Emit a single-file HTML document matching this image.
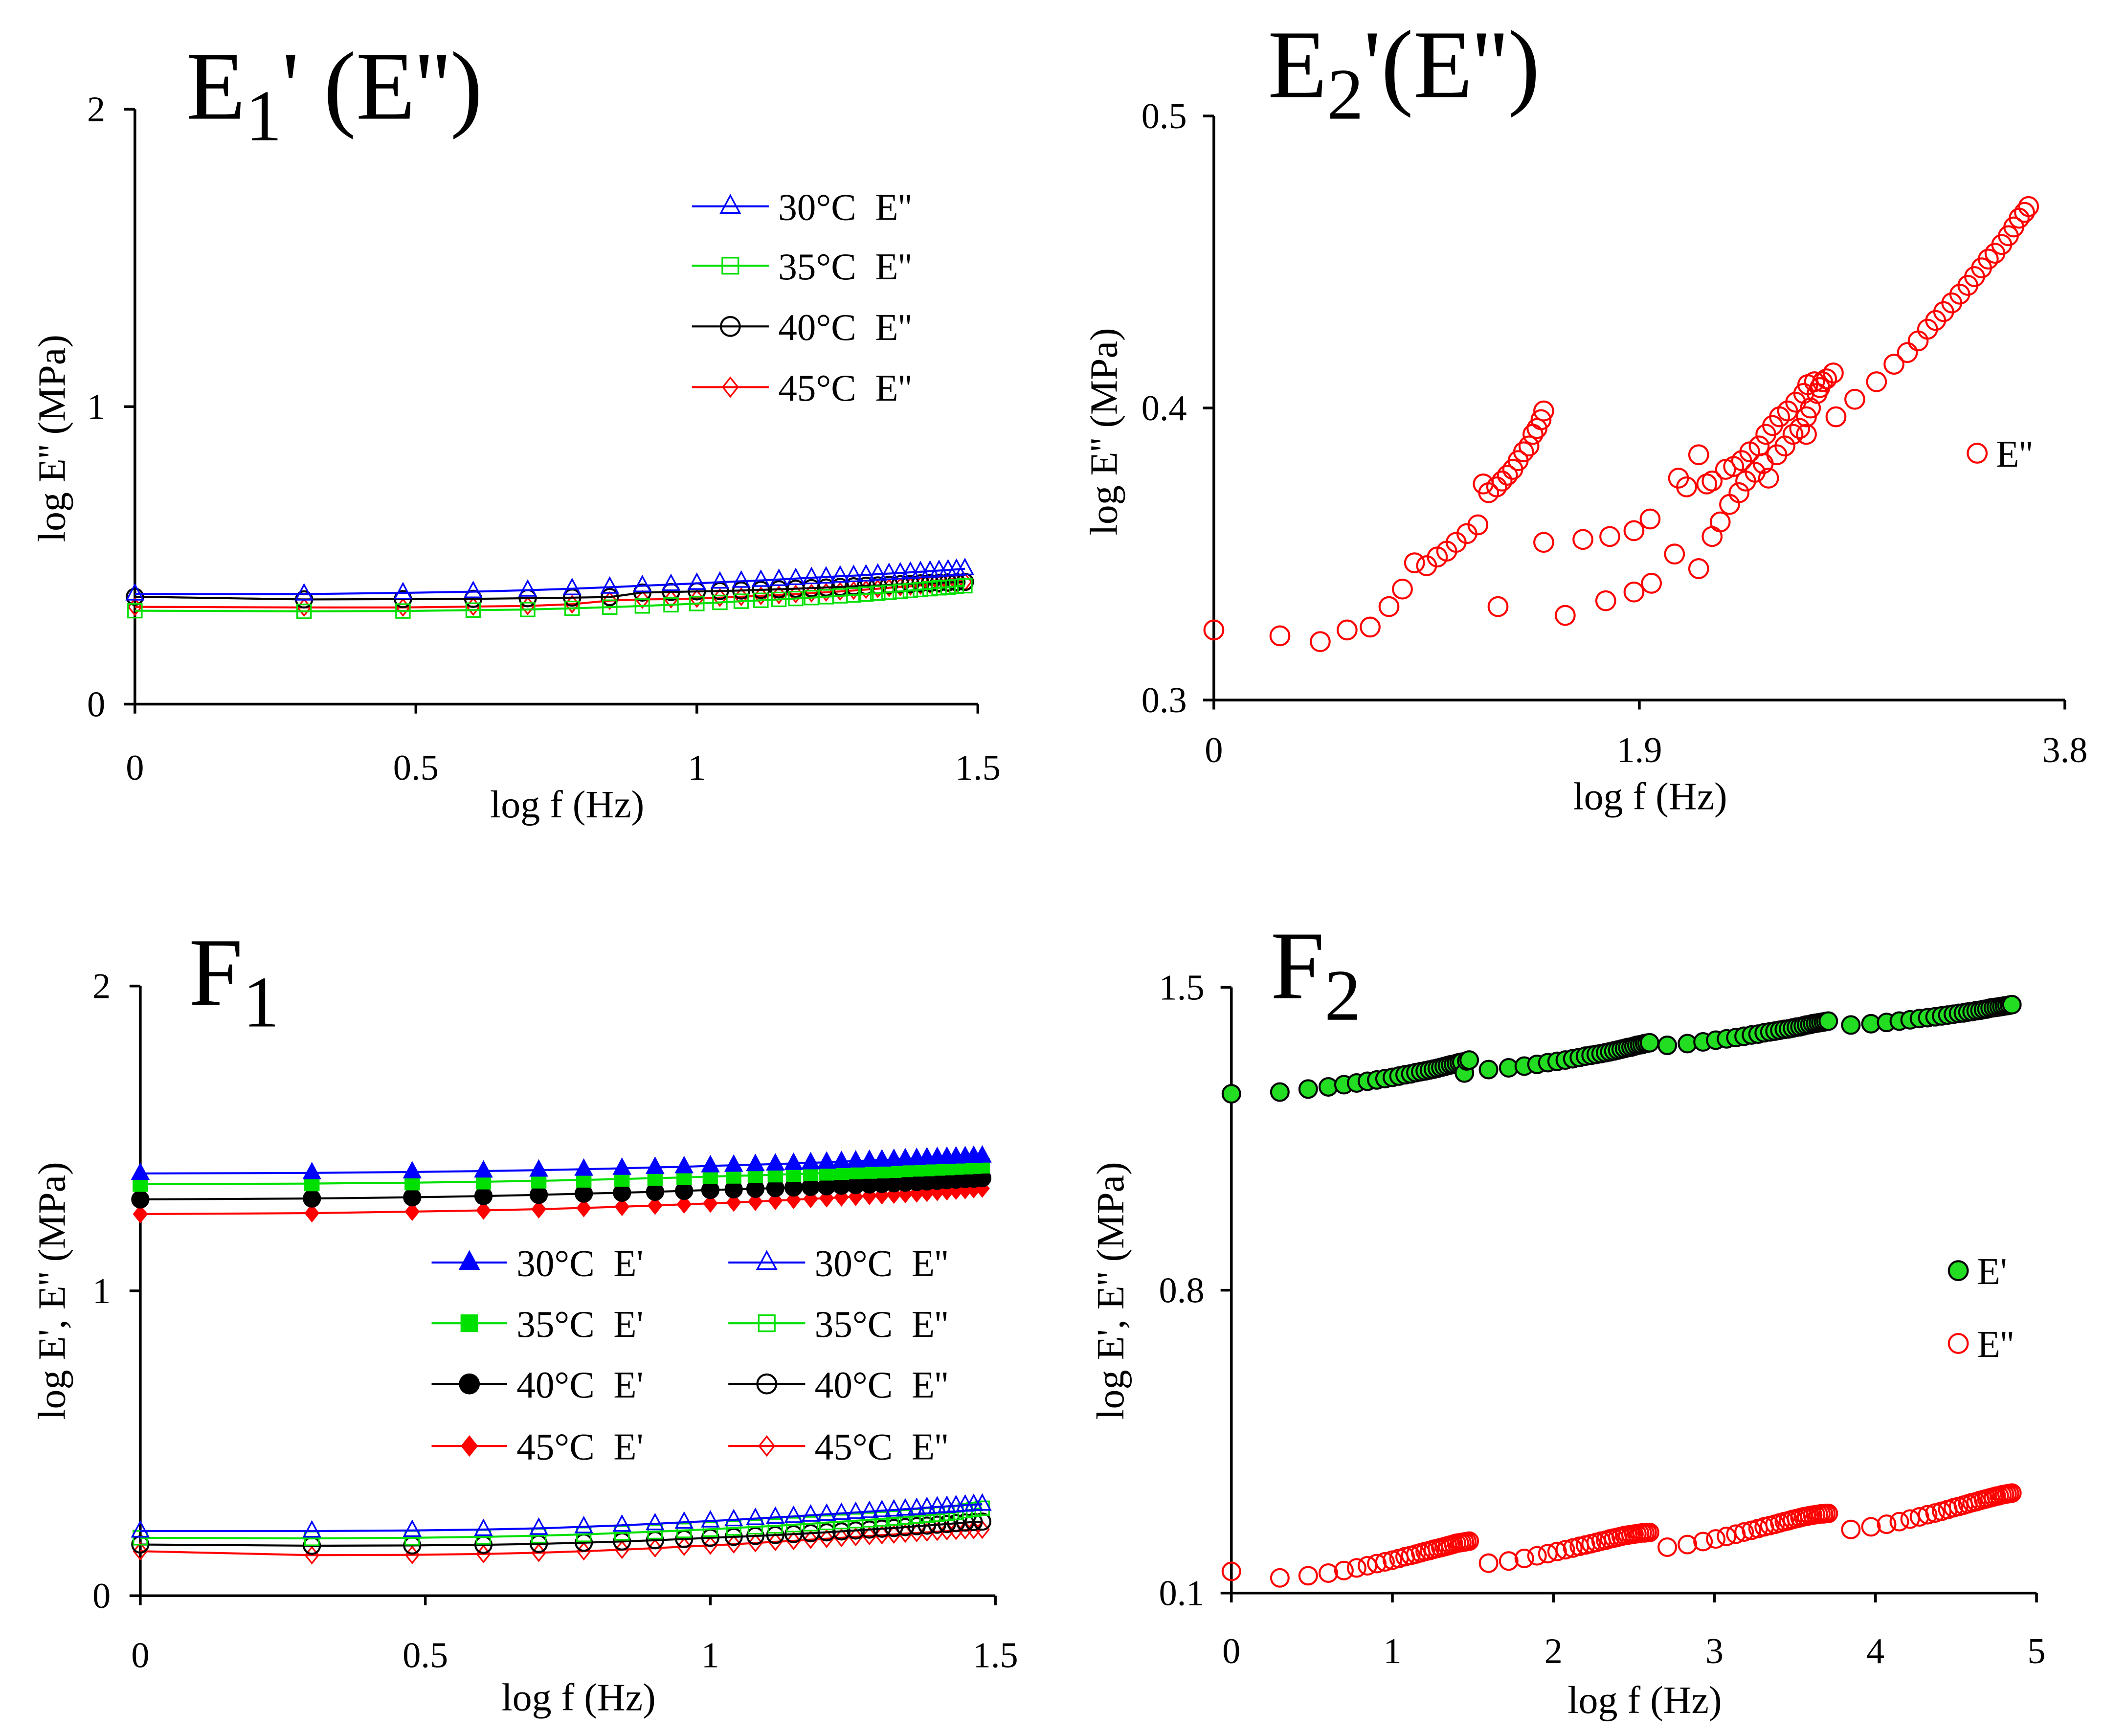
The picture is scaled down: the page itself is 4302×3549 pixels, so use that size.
<!DOCTYPE html>
<html><head><meta charset="utf-8"><style>
html,body{margin:0;padding:0;background:#fff}
svg{display:block}
text{font-family:"Liberation Serif",serif;fill:#000;white-space:pre}
</style></head><body>
<svg id="fig" width="4302" height="3549" viewBox="0 0 1560 1287" xmlns="http://www.w3.org/2000/svg"></svg>
<script>
// ---- shared data ----
const logf=[0,0.301,0.477,0.602,0.699,0.778,0.845,0.903,0.954,1.000,1.041,1.079,1.114,1.146,1.176,1.204,1.230,1.255,1.279,1.301,1.322,1.342,1.362,1.380,1.398,1.415,1.431,1.447,1.462,1.477];
// E1 panel
const e1_30=[0.370,0.370,0.374,0.378,0.383,0.388,0.393,0.398,0.402,0.406,0.410,0.413,0.416,0.419,0.422,0.425,0.427,0.430,0.432,0.434,0.437,0.439,0.441,0.443,0.445,0.447,0.449,0.451,0.453,0.455];
const e1_35=[0.314,0.312,0.313,0.316,0.318,0.322,0.326,0.330,0.334,0.338,0.342,0.346,0.349,0.352,0.355,0.358,0.361,0.364,0.367,0.370,0.373,0.376,0.379,0.382,0.385,0.388,0.391,0.393,0.396,0.398];
const e1_40=[0.361,0.352,0.353,0.354,0.356,0.358,0.360,0.375,0.377,0.379,0.380,0.382,0.384,0.386,0.388,0.390,0.392,0.394,0.396,0.398,0.399,0.401,0.403,0.404,0.406,0.407,0.408,0.409,0.410,0.411];
const e1_45=[0.327,0.325,0.325,0.328,0.330,0.336,0.348,0.352,0.353,0.355,0.358,0.361,0.364,0.367,0.370,0.373,0.376,0.379,0.382,0.385,0.388,0.391,0.394,0.396,0.399,0.402,0.404,0.406,0.409,0.411];
// E2 panel
const e2x=[0,0.295,0.475,0.595,0.698,0.782,0.842,0.896,0.950,0.998,1.040,1.082,1.130,1.179,1.203,1.227,1.263,1.287,1.311,1.335,1.359,1.383,1.407,1.425,1.443,1.461,1.473,
1.269,1.569,1.750,1.876,1.954,2.057,2.165,2.225,2.303,2.345,2.375,2.417,2.453,2.477,2.514,2.550,2.586,2.616,2.646,2.664,2.694,2.718,2.646,
1.473,1.648,1.768,1.876,1.948,2.075,2.111,2.165,2.201,2.225,2.261,2.285,2.321,2.357,2.393,2.435,2.465,2.495,2.526,2.562,2.598,2.634,2.652,2.682,2.706,2.736,2.766,
2.778,2.862,2.959,3.037,3.097,3.145,3.187,3.223,3.259,3.295,3.331,3.367,3.397,3.428,3.458,3.488,3.518,3.548,3.572,3.596,3.620,3.638];
const e2y=[0.324,0.322,0.320,0.324,0.325,0.332,0.338,0.347,0.346,0.349,0.351,0.354,0.357,0.360,0.374,0.371,0.373,0.375,0.377,0.379,0.382,0.385,0.387,0.391,0.393,0.396,0.399,
0.332,0.329,0.334,0.337,0.340,0.350,0.345,0.356,0.367,0.371,0.375,0.378,0.381,0.376,0.384,0.387,0.391,0.393,0.397,0.400,0.405,0.409,0.391,
0.354,0.355,0.356,0.358,0.362,0.376,0.373,0.384,0.374,0.375,0.361,0.379,0.380,0.382,0.385,0.387,0.391,0.394,0.397,0.399,0.402,0.405,0.408,0.409,0.407,0.410,0.412,
0.397,0.403,0.409,0.415,0.419,0.423,0.427,0.430,0.433,0.436,0.439,0.442,0.445,0.448,0.451,0.453,0.456,0.459,0.462,0.465,0.467,0.469];
// F1 panel
const f1_e1_30=[1.385,1.387,1.390,1.393,1.396,1.399,1.402,1.405,1.407,1.410,1.412,1.414,1.416,1.418,1.420,1.422,1.424,1.426,1.428,1.429,1.431,1.433,1.434,1.436,1.437,1.438,1.439,1.440,1.441,1.442];
const f1_e1_35=[1.350,1.352,1.355,1.358,1.361,1.364,1.367,1.370,1.372,1.375,1.377,1.379,1.381,1.383,1.385,1.387,1.389,1.391,1.393,1.394,1.396,1.398,1.400,1.401,1.403,1.404,1.406,1.407,1.409,1.410];
const f1_e1_40=[1.300,1.303,1.307,1.311,1.315,1.319,1.322,1.325,1.328,1.331,1.333,1.335,1.337,1.339,1.341,1.343,1.345,1.347,1.349,1.351,1.353,1.355,1.357,1.359,1.361,1.363,1.365,1.367,1.368,1.370];
const f1_e1_45=[1.252,1.255,1.260,1.264,1.268,1.272,1.276,1.280,1.284,1.287,1.290,1.293,1.296,1.299,1.302,1.304,1.307,1.309,1.312,1.314,1.316,1.318,1.320,1.322,1.325,1.327,1.329,1.331,1.334,1.336];
const f1_e2_30=[0.212,0.212,0.214,0.217,0.221,0.226,0.231,0.236,0.241,0.245,0.249,0.253,0.257,0.260,0.264,0.267,0.270,0.273,0.276,0.279,0.281,0.284,0.286,0.289,0.291,0.293,0.295,0.297,0.299,0.300];
const f1_e2_35=[0.190,0.188,0.190,0.193,0.197,0.201,0.206,0.210,0.214,0.218,0.222,0.226,0.229,0.233,0.236,0.240,0.243,0.246,0.249,0.252,0.255,0.258,0.261,0.264,0.267,0.270,0.273,0.279,0.283,0.287];
const f1_e2_40=[0.168,0.164,0.165,0.167,0.170,0.174,0.178,0.182,0.186,0.190,0.193,0.196,0.199,0.202,0.205,0.208,0.211,0.214,0.217,0.220,0.222,0.225,0.228,0.230,0.233,0.235,0.238,0.240,0.242,0.243];
const f1_e2_45=[0.146,0.133,0.134,0.137,0.141,0.146,0.151,0.156,0.161,0.165,0.169,0.173,0.177,0.180,0.184,0.187,0.190,0.193,0.196,0.199,0.201,0.204,0.206,0.208,0.210,0.212,0.213,0.215,0.216,0.217];
// F2 panel
const f2shift=[0,1.12,2.23,3.37];
const f2_e1_s1=[1.254,1.258,1.265,1.270,1.275,1.279,1.283,1.286,1.289,1.292,1.295,1.298,1.300,1.303,1.305,1.307,1.309,1.311,1.313,1.315,1.317,1.319,1.321,1.322,1.324,1.326,1.327,1.302,1.330,1.332];
const f2_e1_s2=[1.310,1.314,1.318,1.322,1.326,1.329,1.332,1.335,1.338,1.341,1.343,1.345,1.347,1.349,1.351,1.353,1.355,1.357,1.359,1.361,1.362,1.364,1.366,1.367,1.368,1.370,1.371,1.372];
const f2_e1_s3=[1.366,1.370,1.374,1.378,1.381,1.384,1.387,1.390,1.392,1.395,1.397,1.399,1.401,1.403,1.404,1.406,1.408,1.409,1.411,1.413,1.414,1.416,1.417,1.418,1.419,1.420,1.421,1.422];
const f2_e1_s4=[1.413,1.416,1.419,1.422,1.425,1.428,1.430,1.432,1.434,1.436,1.438,1.440,1.441,1.443,1.444,1.446,1.447,1.449,1.450,1.452,1.453,1.454,1.455,1.456,1.457,1.458,1.459,1.460];
const f2_e2_s1=[0.150,0.135,0.140,0.146,0.152,0.158,0.163,0.168,0.172,0.176,0.180,0.184,0.187,0.190,0.193,0.196,0.198,0.201,0.203,0.205,0.207,0.209,0.211,0.213,0.215,0.216,0.217,0.218,0.219,0.220];
const f2_e2_s2=[0.169,0.174,0.180,0.186,0.191,0.196,0.200,0.204,0.208,0.211,0.214,0.217,0.220,0.222,0.225,0.227,0.229,0.231,0.233,0.234,0.235,0.236,0.237,0.238,0.239,0.239,0.240,0.240];
const f2_e2_s3=[0.206,0.212,0.219,0.225,0.231,0.236,0.241,0.245,0.249,0.253,0.256,0.259,0.262,0.265,0.267,0.270,0.272,0.274,0.276,0.277,0.279,0.280,0.281,0.282,0.283,0.283,0.284,0.284];
const f2_e2_s4=[0.247,0.253,0.259,0.265,0.271,0.276,0.281,0.285,0.289,0.293,0.297,0.300,0.303,0.306,0.309,0.311,0.314,0.316,0.318,0.320,0.322,0.324,0.325,0.327,0.328,0.329,0.330,0.331];

const svg=document.getElementById('fig');
const NS='http://www.w3.org/2000/svg';
function mk(tag,attrs,parent){const e=document.createElementNS(NS,tag);for(const k in attrs)e.setAttribute(k,attrs[k]);(parent||svg).appendChild(e);return e;}
function lin(d0,d1,p0,p1){return v=>p0+(v-d0)/(d1-d0)*(p1-p0);}

function marker(g,type,cx,cy,color,fill,r){
  let e;
  if(type==='circle'){e=mk('circle',{cx:cx,cy:cy,r:r,fill:fill,stroke:color,'stroke-width':1.5},g);}
  else if(type==='tri'){e=mk('polygon',{points:`${cx},${cy-r*1.15} ${cx-r},${cy+r*0.7} ${cx+r},${cy+r*0.7}`,fill:fill,stroke:color,'stroke-width':1.2},g);}
  else if(type==='sq'){e=mk('rect',{x:cx-r*0.85,y:cy-r*0.85,width:r*1.7,height:r*1.7,fill:fill,stroke:color,'stroke-width':1.2},g);}
  else {e=mk('polygon',{points:`${cx},${cy-r} ${cx+r*0.8},${cy} ${cx},${cy+r} ${cx-r*0.8},${cy}`,fill:fill,stroke:color,'stroke-width':1.2},g);}
  
  
  return e;
}

function axes(name,x0,x1,y0,y1,xticks,xlabels,yticks,ylabels,X,Y,xlab,ylab,ylabY,o){
  const g=mk('g',{});
  
  
  const xa=mk('line',{x1:X(xticks[0]),y1:y0,x2:X(xticks[xticks.length-1]),y2:y0,stroke:'#000','stroke-width':2},g);
  
  const ya=mk('line',{x1:x0,y1:Y(yticks[0]),x2:x0,y2:Y(yticks[yticks.length-1]),stroke:'#000','stroke-width':2},g);
  
  xticks.forEach((t,i)=>{
    mk('line',{x1:X(t),y1:y0,x2:X(t),y2:y0+7,stroke:'#000','stroke-width':2},g);
    const tx=mk('text',{x:X(t),y:y0+o.xt,'font-size':27,'text-anchor':'middle'},g);tx.textContent=xlabels[i];
    
  });
  yticks.forEach((t,i)=>{
    mk('line',{x1:x0-8,y1:Y(t),x2:x0,y2:Y(t),stroke:'#000','stroke-width':2},g);
    const tx=mk('text',{x:x0-o.yt,y:Y(t)+9,'font-size':27,'text-anchor':'end'},g);tx.textContent=ylabels[i];
    
  });
  const xl=mk('text',{x:(x0+x1)/2+8,y:y0+o.xl,'font-size':29,'text-anchor':'middle'},g);xl.textContent=xlab;
  
  const yl=mk('text',{x:0,y:0,'font-size':29,'text-anchor':'middle',transform:`translate(${x0-o.yl},${ylabY}) rotate(-90)`},g);yl.textContent=ylab;
  
}
function title(x,y,main,sub,rest){
  const t=mk('text',{x:x,y:y,'font-size':72});
  
  const a=mk('tspan',{},t);a.textContent=main;
  const b=mk('tspan',{dy:16,'font-size':54},t);b.textContent=sub;
  if(rest){const c=mk('tspan',{dy:-16},t);c.textContent=rest;}
}
function series(name,xs,ys,X,Y,type,color,fill,r,line){
  const g=mk('g',{});
  
  
  if(line){
    const pts=xs.map((x,i)=>X(x)+','+Y(ys[i])).join(' ');
    mk('polyline',{points:pts,fill:'none',stroke:color,'stroke-width':1.5},g);
  }
  xs.forEach((x,i)=>marker(g,type,X(x),Y(ys[i]),color,fill,r));
}
function legendEntry(name,lx,ly,type,color,fill,label,lineLen){
  const g=mk('g',{});
  
  
  if(lineLen) mk('line',{x1:lx,y1:ly,x2:lx+lineLen,y2:ly,stroke:color,'stroke-width':1.5},g);
  marker(g,type,lx+(lineLen?lineLen/2:0),ly,color,fill,7);
  const t=mk('text',{x:lx+(lineLen?lineLen+7:14),y:ly+10,'font-size':28},g);t.textContent=label;
}

// ---- Panel E1 ----
{const X=lin(0,1.5,100,725),Y=lin(0,2,522,81);
axes('e1',100,725,522,81,[0,0.5,1,1.5],['0','0.5','1','1.5'],[0,1,2],['0','1','2'],X,Y,'log f (Hz)',"log E'' (MPa)",325,{xt:56,yt:22,xl:84,yl:52});
title(138,88,'E','1',"' (E'')");
series('e1-45c',logf,e1_45,X,Y,'dia','#ff0000','none',6,true);
series('e1-40c',logf,e1_40,X,Y,'circle','#000','none',6,true);
series('e1-35c',logf,e1_35,X,Y,'sq','#00e000','none',6,true);
series('e1-30c',logf,e1_30,X,Y,'tri','#0000ff','none',6,true);
legendEntry('legend-30c',513,153,'tri','#0000ff','none',"30°C\u00a0\u00a0E''",57);
legendEntry('legend-35c',513,197,'sq','#00e000','none',"35°C\u00a0\u00a0E''",57);
legendEntry('legend-40c',513,242,'circle','#000','none',"40°C\u00a0\u00a0E''",57);
legendEntry('legend-45c',513,287,'dia','#ff0000','none',"45°C\u00a0\u00a0E''",57);}

// ---- Panel E2 ----
{const X=lin(0,3.8,900,1531),Y=lin(0.3,0.5,519,86);
axes('e2',900,1531,519,86,[0,1.9,3.8],['0','1.9','3.8'],[0.3,0.4,0.5],['0.3','0.4','0.5'],X,Y,'log f (Hz)',"log E'' (MPa)",320,{xt:46,yt:20,xl:81,yl:72});
title(940,72,'E','2',"'(E'')");
series('e2-loss',e2x,e2y,X,Y,'circle','#ff0000','none',7,false);
legendEntry('legend-e2',1466,336,'circle','#ff0000','none',"E''",0);}

// ---- Panel F1 ----
{const X=lin(0,1.5,104,738),Y=lin(0,2,1183,731);
axes('f1',104,738,1183,731,[0,0.5,1,1.5],['0','0.5','1','1.5'],[0,1,2],['0','1','2'],X,Y,'log f (Hz)',"log E', E'' (MPa)",957,{xt:53,yt:22,xl:85,yl:56});
title(140,745,'F','1','');
series('f1-storage-45c',logf,f1_e1_45,X,Y,'dia','#ff0000','#ff0000',6,true);
series('f1-storage-40c',logf,f1_e1_40,X,Y,'circle','#000','#000',6,true);
series('f1-storage-35c',logf,f1_e1_35,X,Y,'sq','#00e000','#00e000',6,true);
series('f1-storage-30c',logf,f1_e1_30,X,Y,'tri','#0000ff','#0000ff',6,true);
series('f1-loss-45c',logf,f1_e2_45,X,Y,'dia','#ff0000','none',6,true);
series('f1-loss-40c',logf,f1_e2_40,X,Y,'circle','#000','none',6,true);
series('f1-loss-35c',logf,f1_e2_35,X,Y,'sq','#00e000','none',6,true);
series('f1-loss-30c',logf,f1_e2_30,X,Y,'tri','#0000ff','none',6,true);
const rows=[936,981,1026,1072],cols=['#0000ff','#00e000','#000','#ff0000'],types=['tri','sq','circle','dia'],temps=['30','35','40','45'];
rows.forEach((ry,i)=>{
  legendEntry('legend-storage-'+temps[i]+'c',320,ry,types[i],cols[i],cols[i],temps[i]+"°C\u00a0\u00a0E'",56);
  legendEntry('legend-loss-'+temps[i]+'c',540,ry,types[i],cols[i],'none',temps[i]+"°C\u00a0\u00a0E''",57);
});}

// ---- Panel F2 ----
{const X=lin(0,5,913,1510),Y=lin(0.1,1.5,1181,732);
axes('f2',913,1510,1181,732,[0,1,2,3,4,5],['0','1','2','3','4','5'],[0.1,0.8,1.5],['0.1','0.8','1.5'],X,Y,'log f (Hz)',"log E', E'' (MPa)",957,{xt:52,yt:20,xl:89,yl:80});
title(942,740,'F','2','');
const e1s=[f2_e1_s1,f2_e1_s2,f2_e1_s3,f2_e1_s4],e2s=[f2_e2_s1,f2_e2_s2,f2_e2_s3,f2_e2_s4];
e2s.forEach((ys,s)=>{const off=logf.length-ys.length;const xs=ys.map((v,i)=>f2shift[s]+logf[i+off]);series('f2-loss-seg'+(s+1),xs,ys,X,Y,'circle','#ff0000','none',6.5,false);});
e1s.forEach((ys,s)=>{const off=logf.length-ys.length;const xs=ys.map((v,i)=>f2shift[s]+logf[i+off]);series('f2-storage-seg'+(s+1),xs,ys,X,Y,'circle','#000','#22dd22',6.5,false);});
legendEntry('legend-f2-storage',1452,942,'circle','#000','#22dd22',"E'",0);
legendEntry('legend-f2-loss',1452,996,'circle','#ff0000','none',"E''",0);}
</script>
</body></html>
